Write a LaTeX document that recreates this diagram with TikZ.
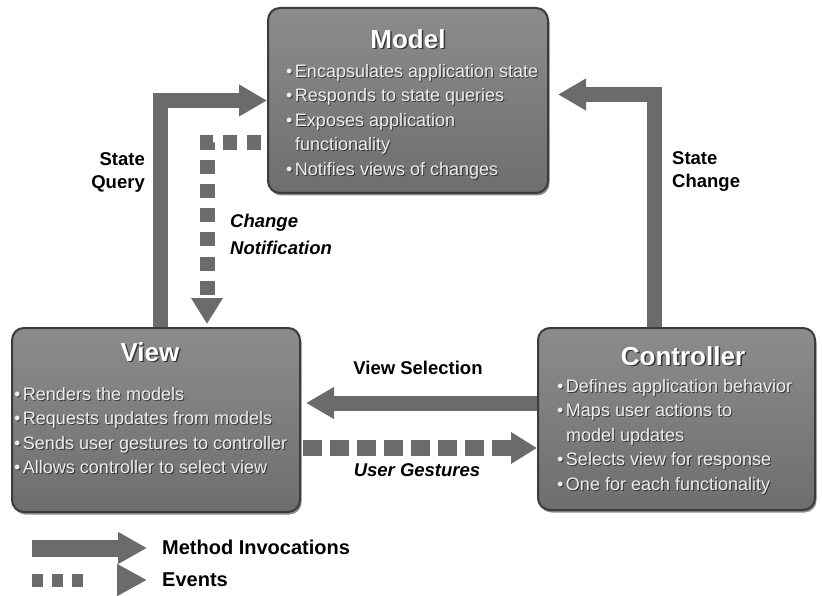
\documentclass[tikz,border=0pt]{standalone}
\usepackage{fontspec}
\setmainfont{Liberation Sans}
\usetikzlibrary{arrows.meta,calc,shadows}
\definecolor{arr}{HTML}{6B6B6B}
\definecolor{boxtop}{HTML}{8C8C8C}
\definecolor{boxbot}{HTML}{6E6E6E}
\definecolor{boxedge}{HTML}{3C3C3C}
\definecolor{txtc}{HTML}{EEEEEE}
\pgfdeclarelayer{bg}
\pgfsetlayers{bg,main}
\newcommand\bl{\textbullet\hspace{2.5pt}}
\newcommand\ind{\phantom{\textbullet}\hspace{2.5pt}}
\newcommand\modeltxt{\bl Encapsulates application state\\ \bl Responds to state queries\\ \bl Exposes application\\ \ind functionality\\ \bl Notifies views of changes}
\newcommand\viewtxt{\bl Renders the models\\ \bl Requests updates from models\\ \bl Sends user gestures to controller\\ \bl Allows controller to select view}
\newcommand\ctrltxt{\bl Defines application behavior\\ \bl Maps user actions to\\ \ind model updates\\ \bl Selects view for response\\ \bl One for each functionality}
\begin{document}
\begin{tikzpicture}[x=1pt,y=-1pt,
  mvcbox/.style={rectangle,rounded corners=12pt,draw=boxedge,line width=2pt,
    top color=boxtop,bottom color=boxbot,inner sep=0pt,
    drop shadow={shadow xshift=1.5pt,shadow yshift=-2.5pt,fill=black,opacity=0.45}},
  ttl/.style={text=white,font=\bfseries\fontsize{26}{30}\selectfont,inner sep=0pt},
  ttlsh/.style={ttl,text=black,opacity=0.6},
  btxt/.style={text=txtc,font=\fontsize{18}{24.5}\selectfont,align=left,inner sep=0pt,anchor=north west},
  btxtsh/.style={btxt,text=black,opacity=0.55},
  lbl/.style={text=black,font=\bfseries\fontsize{18.5}{23}\selectfont,inner sep=0pt},
  ilbl/.style={lbl,font=\bfseries\itshape\fontsize{18.5}{27}\selectfont},
  leg/.style={text=black,font=\bfseries\fontsize{20}{24}\selectfont,inner sep=0pt,anchor=west},
  mi/.style={draw=arr,line width=15pt,-{Triangle[length=28pt,width=30pt]}},
  ev/.style={draw=arr,line width=16pt,dash pattern=on 19pt off 8pt,-{Triangle[length=26pt,width=30pt]}},
  evb/.style={draw=arr,line width=15pt,dash pattern=on 14pt off 10pt,dash phase=13pt,-{Triangle[length=26pt,width=30pt]}}
]
\useasboundingbox (0,0) rectangle (822,596);
\begin{pgfonlayer}{bg}
\fill[white] (0,0) rectangle (822,596);
\end{pgfonlayer}

% boxes
\node[mvcbox,minimum width=280pt,minimum height=185pt] (model) at (408,100.5) {};
\node[mvcbox,minimum width=288pt,minimum height=184pt] (view) at (156,420) {};
\node[mvcbox,minimum width=277pt,minimum height=182pt] (ctrl) at (676.5,419) {};

% titles
\node[ttlsh] (mts) at ($(model.north)+(1.5,33.5)$) {Model};
\node[ttl] (mt) at ($(model.north)+(0,32)$) {Model};
\node[ttlsh] (vts) at ($(view.north)+(-4.5,26.5)$) {View};
\node[ttl] (vt) at ($(view.north)+(-6,25)$) {View};
\node[ttlsh] (cts) at ($(ctrl.north)+(8,30.5)$) {Controller};
\node[ttl] (ct) at ($(ctrl.north)+(6.5,29)$) {Controller};

% bullet texts
\node[btxtsh] (mbs) at ($(model.north west)+(20,58)$) {\modeltxt};
\node[btxt] (mb) at ($(model.north west)+(19,57)$) {\modeltxt};
\node[btxtsh] (vbs) at ($(view.north west)+(4,61)$) {\viewtxt};
\node[btxt] (vb) at ($(view.north west)+(3,60)$) {\viewtxt};
\node[btxtsh] (cbs) at ($(ctrl.north west)+(21,53)$) {\ctrltxt};
\node[btxt] (cb) at ($(ctrl.north west)+(20,52)$) {\ctrltxt};

% connectors
\begin{pgfonlayer}{bg}
\draw[mi] ($(view.north)+(4,10)$) |- (model.west);
\draw[mi] ($(ctrl.north)+(-22,10)$) |- ($(model.east)+(9,-6)$);
\draw[mi] ($(ctrl.west)+(5,-16)$) -- ($(view.east)+(5,-17)$);
\draw[ev] ($(view.east)+(2,28)$) -- ($(ctrl.west)+(0,29)$);
\draw[evb] ($(model.west)+(5,42)$) -| ($(view.north)+(51,-3)$);
\end{pgfonlayer}

% labels
\node[lbl,align=right,anchor=east] (sq) at (145,172) {State\\Query};
\node[lbl,align=left,anchor=west] (sc) at (672,172) {State\\Change};
\node[ilbl,align=left,anchor=west] (cn) at (230,234) {Change\\Notification};
\node[lbl] (vsl) at (418,368) {View Selection};
\node[ilbl] (ugl) at (417,470) {User Gestures};

% legend
\coordinate (lm1) at (32,548);
\coordinate (lm2) at (147,548);
\draw[draw=arr,line width=17pt,-{Triangle[length=29pt,width=30pt]}] (lm1) -- (lm2);
\node[leg] (lmt) at (162,547) {Method Invocations};
\coordinate (le1) at (32,580);
\coordinate (le2) at (147,580);
\draw[draw=arr,line width=13pt,dash pattern=on 11pt off 9pt on 11pt off 9pt on 11pt off 60pt,-{Triangle[length=30pt,width=30pt]}] (le1) -- (le2);
\node[leg] (let) at (162,580) {Events};
\end{tikzpicture}
\end{document}
